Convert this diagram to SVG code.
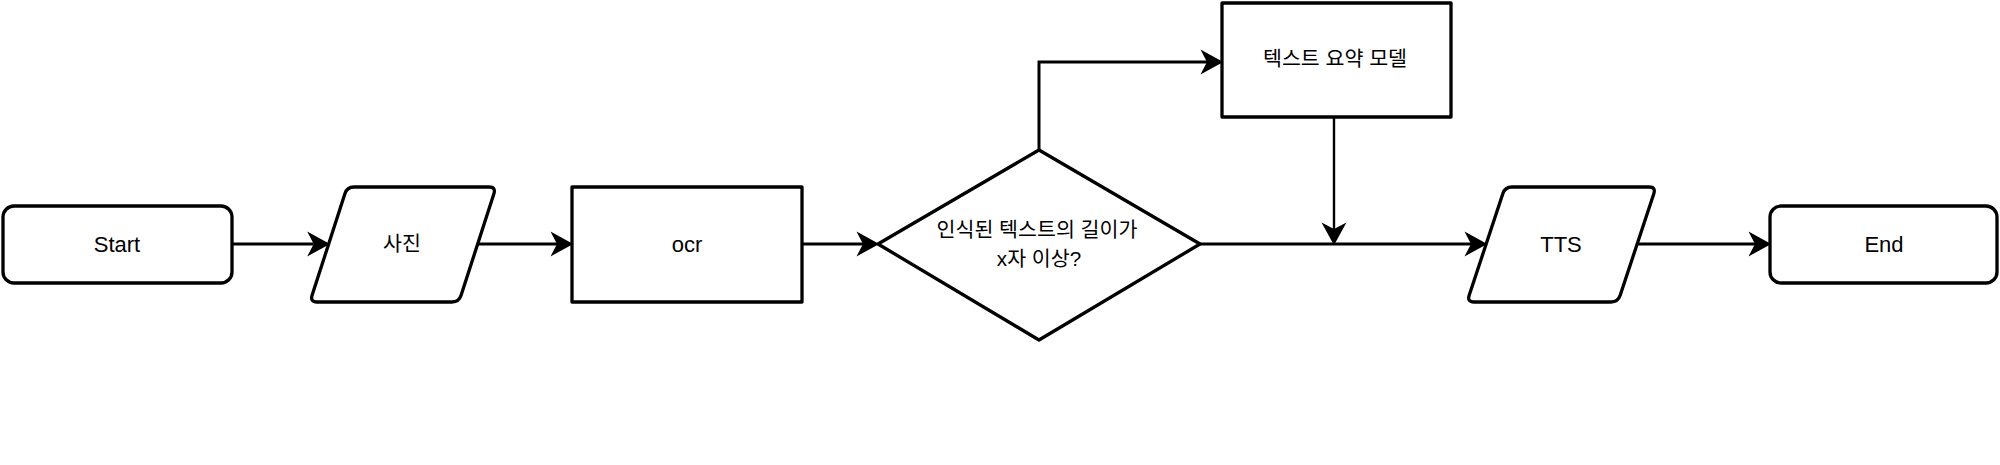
<svg xmlns="http://www.w3.org/2000/svg" width="2000" height="465" viewBox="0 0 2000 465">
<style>
.shape{fill:#ffffff;stroke:#000000;stroke-width:3.3;stroke-linejoin:round}
.conn{fill:none;stroke:#000000;stroke-width:3}
.thin{stroke-width:2.4}
.lat{font-family:"Liberation Sans","Noto Sans CJK KR",sans-serif;font-size:22px;fill:#000000;text-anchor:middle}
.kor{font-family:"Liberation Sans","Noto Sans CJK KR",sans-serif;font-size:20.6px;fill:#000000;text-anchor:middle}
</style>
<defs>
<marker id="arrow" markerUnits="userSpaceOnUse" markerWidth="24" markerHeight="26" viewBox="0 -12 22 24" refX="6" refY="0" orient="auto">
<path d="M0,-11.5 L21,0 L0,11.5 L6,0 Z" fill="#000000"/>
</marker>
</defs>
<rect width="2000" height="465" fill="#ffffff"/>
<g id="connectors">
<path class="conn" d="M232,244 H313.7" marker-end="url(#arrow)"/>
<path class="conn" d="M477,244 H557" marker-end="url(#arrow)"/>
<path class="conn" d="M802,244 H863" marker-end="url(#arrow)"/>
<path class="conn" d="M1039,150 V62 H1207" marker-end="url(#arrow)"/>
<path class="conn" d="M1200,244 H1471" marker-end="url(#arrow)"/>
<path class="conn thin" d="M1334,117 V229" marker-end="url(#arrow)"/>
<path class="conn" d="M1637,244 H1755" marker-end="url(#arrow)"/>
</g>
<g id="start">
<rect class="shape" x="3" y="206" width="229" height="77" rx="11" ry="11"/>
<text class="lat" x="117" y="252">Start</text>
</g>
<g id="photo">
<path class="shape" d="M354,187 L489,187 Q496,187 493.9,193.7 L461.1,295.3 Q459,302 452,302 L317,302 Q310,302 312.1,295.3 L344.9,193.7 Q347,187 354,187 Z"/>
<text class="kor" x="402" y="251">사진</text>
</g>
<g id="ocr">
<rect class="shape" x="572" y="187" width="230" height="115"/>
<text class="lat" x="687" y="252">ocr</text>
</g>
<g id="decision">
<polygon class="shape" points="878,244 1039,150 1200,244 1039,340"/>
<text class="kor" x="1037" y="237">인식된 텍스트의 길이가</text>
<text class="kor" x="1039" y="266">x자 이상?</text>
</g>
<g id="summary">
<rect class="shape" x="1222" y="3" width="229" height="114"/>
<text class="kor" x="1335" y="66">텍스트 요약 모델</text>
</g>
<g id="tts">
<path class="shape" d="M1512,187 L1649,187 Q1656,187 1653.8,193.65 L1620.2,295.35 Q1618,302 1611,302 L1474,302 Q1467,302 1469.2,295.35 L1502.8,193.65 Q1505,187 1512,187 Z"/>
<text class="lat" x="1561" y="252">TTS</text>
</g>
<g id="end">
<rect class="shape" x="1770" y="206" width="227" height="77" rx="11" ry="11"/>
<text class="lat" x="1884" y="252">End</text>
</g>
</svg>
